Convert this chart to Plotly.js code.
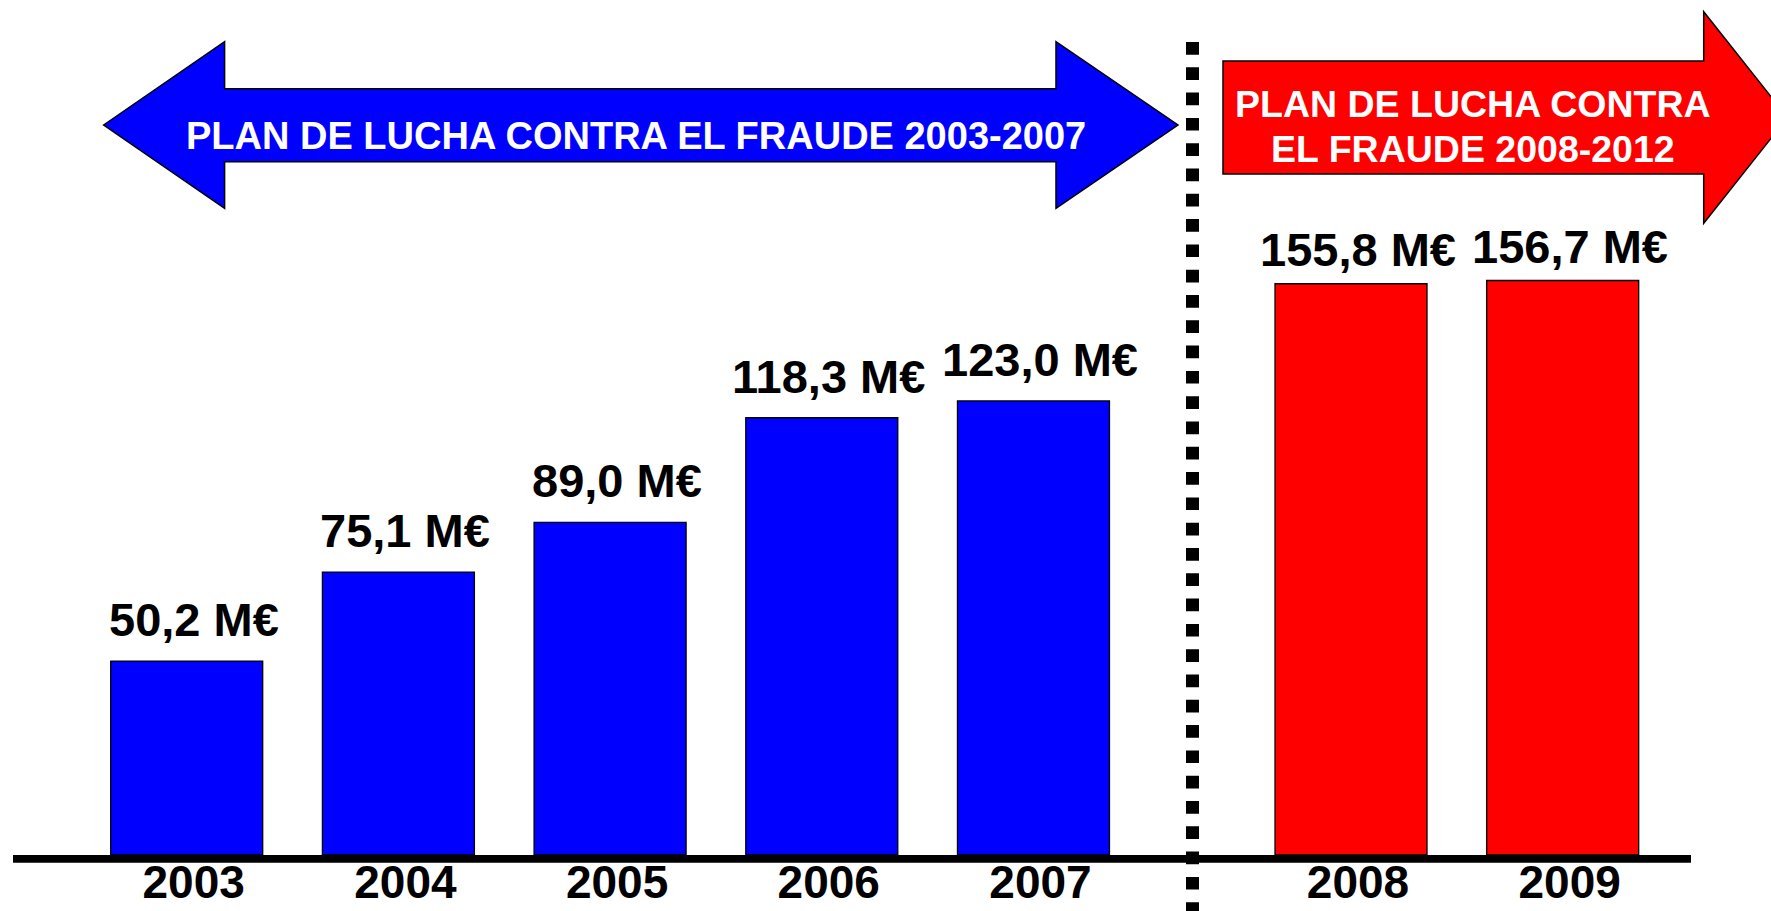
<!DOCTYPE html>
<html>
<head>
<meta charset="utf-8">
<script src="https://cdn.plot.ly/plotly-3.0.1.min.js"></script>
<style>
  html, body { margin: 0; padding: 0; background: #ffffff; }
  #chart { width: 1771px; height: 911px; }
</style>
</head>
<body>
<div id="chart"></div>
<script>
// ---- Data ----
const years = ['2003', '2004', '2005', '2006', '2007', '2008', '2009'];
const values = [50.2, 75.1, 89.0, 118.3, 123.0, 155.8, 156.7];
const plans = ['2003-2007', '2003-2007', '2003-2007', '2003-2007', '2003-2007', '2008-2012', '2008-2012'];
const planTitles = {
  '2003-2007': ['PLAN DE LUCHA CONTRA EL FRAUDE 2003-2007'],
  '2008-2012': ['PLAN DE LUCHA CONTRA', 'EL FRAUDE 2008-2012']
};
const unit = ' M€';

// ---- Layout helpers ----
const W = 1771, H = 911;
const plotBottom = 855;               // pixel row of the value-axis minimum
const FONT = 'Liberation Sans, Arial, sans-serif';
const planColors = { '2003-2007': '#0000FF', '2008-2012': '#FF0000' };

// slot positions: one slot per year, an extra half slot between plans
const slots = [];
let pos = 0;
for (let i = 0; i < years.length; i++) {
  if (i > 0 && plans[i] !== plans[i - 1]) pos += 0.5;
  slots.push(pos);
  pos += 1;
}

const yMin = -4.06, yMax = 235.2;
const xMin = -0.882, xMax = 7.484;

const px = x => x / W;
const py = y => (plotBottom - y) / plotBottom;
const pathOf = pts => 'M ' + pts.map(p => px(p[0]).toFixed(5) + ',' + py(p[1]).toFixed(5)).join(' L ') + ' Z';

const label = v => v.toFixed(1).replace('.', ',') + unit;

// ---- Traces ----
const planKeys = Object.keys(planTitles);
const traces = planKeys.map(pk => {
  const idx = years.map((_, i) => i).filter(i => plans[i] === pk);
  return {
    type: 'bar',
    x: idx.map(i => slots[i]),
    y: idx.map(i => values[i] - yMin),
    base: yMin,
    width: 0.718,
    marker: { color: planColors[pk], line: { color: '#000000', width: 1.3 } },
    hoverinfo: 'skip',
    showlegend: false
  };
});

// ---- Annotations ----
const annotations = [];
years.forEach((yr, i) => {
  annotations.push({
    x: slots[i], y: values[i], xref: 'x', yref: 'y',
    text: '<b>' + label(values[i]) + '</b>',
    showarrow: false, xanchor: 'center', yanchor: 'bottom',
    xshift: 7, yshift: plans[i] === '2003-2007' ? 13 : 6,
    font: { family: FONT, size: 47, color: '#000000' }
  });
});
// plan titles inside the arrows
annotations.push({
  x: px(636), y: py(136), xref: 'paper', yref: 'paper',
  text: '<b>' + planTitles['2003-2007'][0] + '</b>',
  showarrow: false, xanchor: 'center', yanchor: 'middle',
  font: { family: FONT, size: 38, color: '#FFFFFF' }
});
planTitles['2008-2012'].forEach((t, k) => {
  annotations.push({
    x: px(1473), y: py(103.5 + 45 * k), xref: 'paper', yref: 'paper',
    text: '<b>' + t + '</b>',
    showarrow: false, xanchor: 'center', yanchor: 'middle',
    font: { family: FONT, size: 37.5, color: '#FFFFFF' }
  });
});

// ---- Shapes ----
const shapes = [
  // baseline
  { type: 'line', xref: 'paper', yref: 'paper',
    x0: px(13), x1: px(1691), y0: py(858.9), y1: py(858.9),
    line: { color: '#000000', width: 7.7 } },
  // dotted separator
  { type: 'line', xref: 'paper', yref: 'paper',
    x0: px(1192.5), x1: px(1192.5), y0: py(42), y1: py(940),
    line: { color: '#000000', width: 13, dash: '12.7px,12.6px' } },
  // blue double arrow
  { type: 'path', xref: 'paper', yref: 'paper', layer: 'below',
    path: pathOf([[103.6,125],[224.6,41.7],[224.6,88.7],[1056,88.7],[1056,41.7],[1178,125],
                  [1056,208.3],[1056,161.7],[224.6,161.7],[224.6,208.3]]),
    fillcolor: '#0000FF', line: { color: '#000000', width: 1.5 } },
  // red arrow
  { type: 'path', xref: 'paper', yref: 'paper', layer: 'below',
    path: pathOf([[1223,61],[1703.7,61],[1703.7,11.7],[1787.5,117.5],[1703.7,223.3],[1703.7,174],[1223,174]]),
    fillcolor: '#FF0000', line: { color: '#000000', width: 1.5 } }
];

const layout = {
  width: W, height: H,
  margin: { l: 0, r: 0, t: 0, b: H - plotBottom, pad: 0 },
  paper_bgcolor: '#FFFFFF', plot_bgcolor: 'rgba(0,0,0,0)',
  showlegend: false,
  bargap: 0,
  xaxis: {
    range: [xMin, xMax], tickmode: 'array', tickvals: slots,
    ticktext: years.map(y => '<b>' + y + '</b>'),
    ticks: '', showgrid: false, zeroline: false, showline: false,
    ticklabelstandoff: -4, ticklabelshift: 7,
    tickfont: { family: FONT, size: 46, color: '#000000' },
    fixedrange: true
  },
  yaxis: {
    range: [yMin, yMax], visible: false, showgrid: false, zeroline: false,
    fixedrange: true
  },
  annotations: annotations,
  shapes: shapes
};

Plotly.newPlot('chart', traces, layout, { displayModeBar: false, staticPlot: true });
</script>
</body>
</html>
